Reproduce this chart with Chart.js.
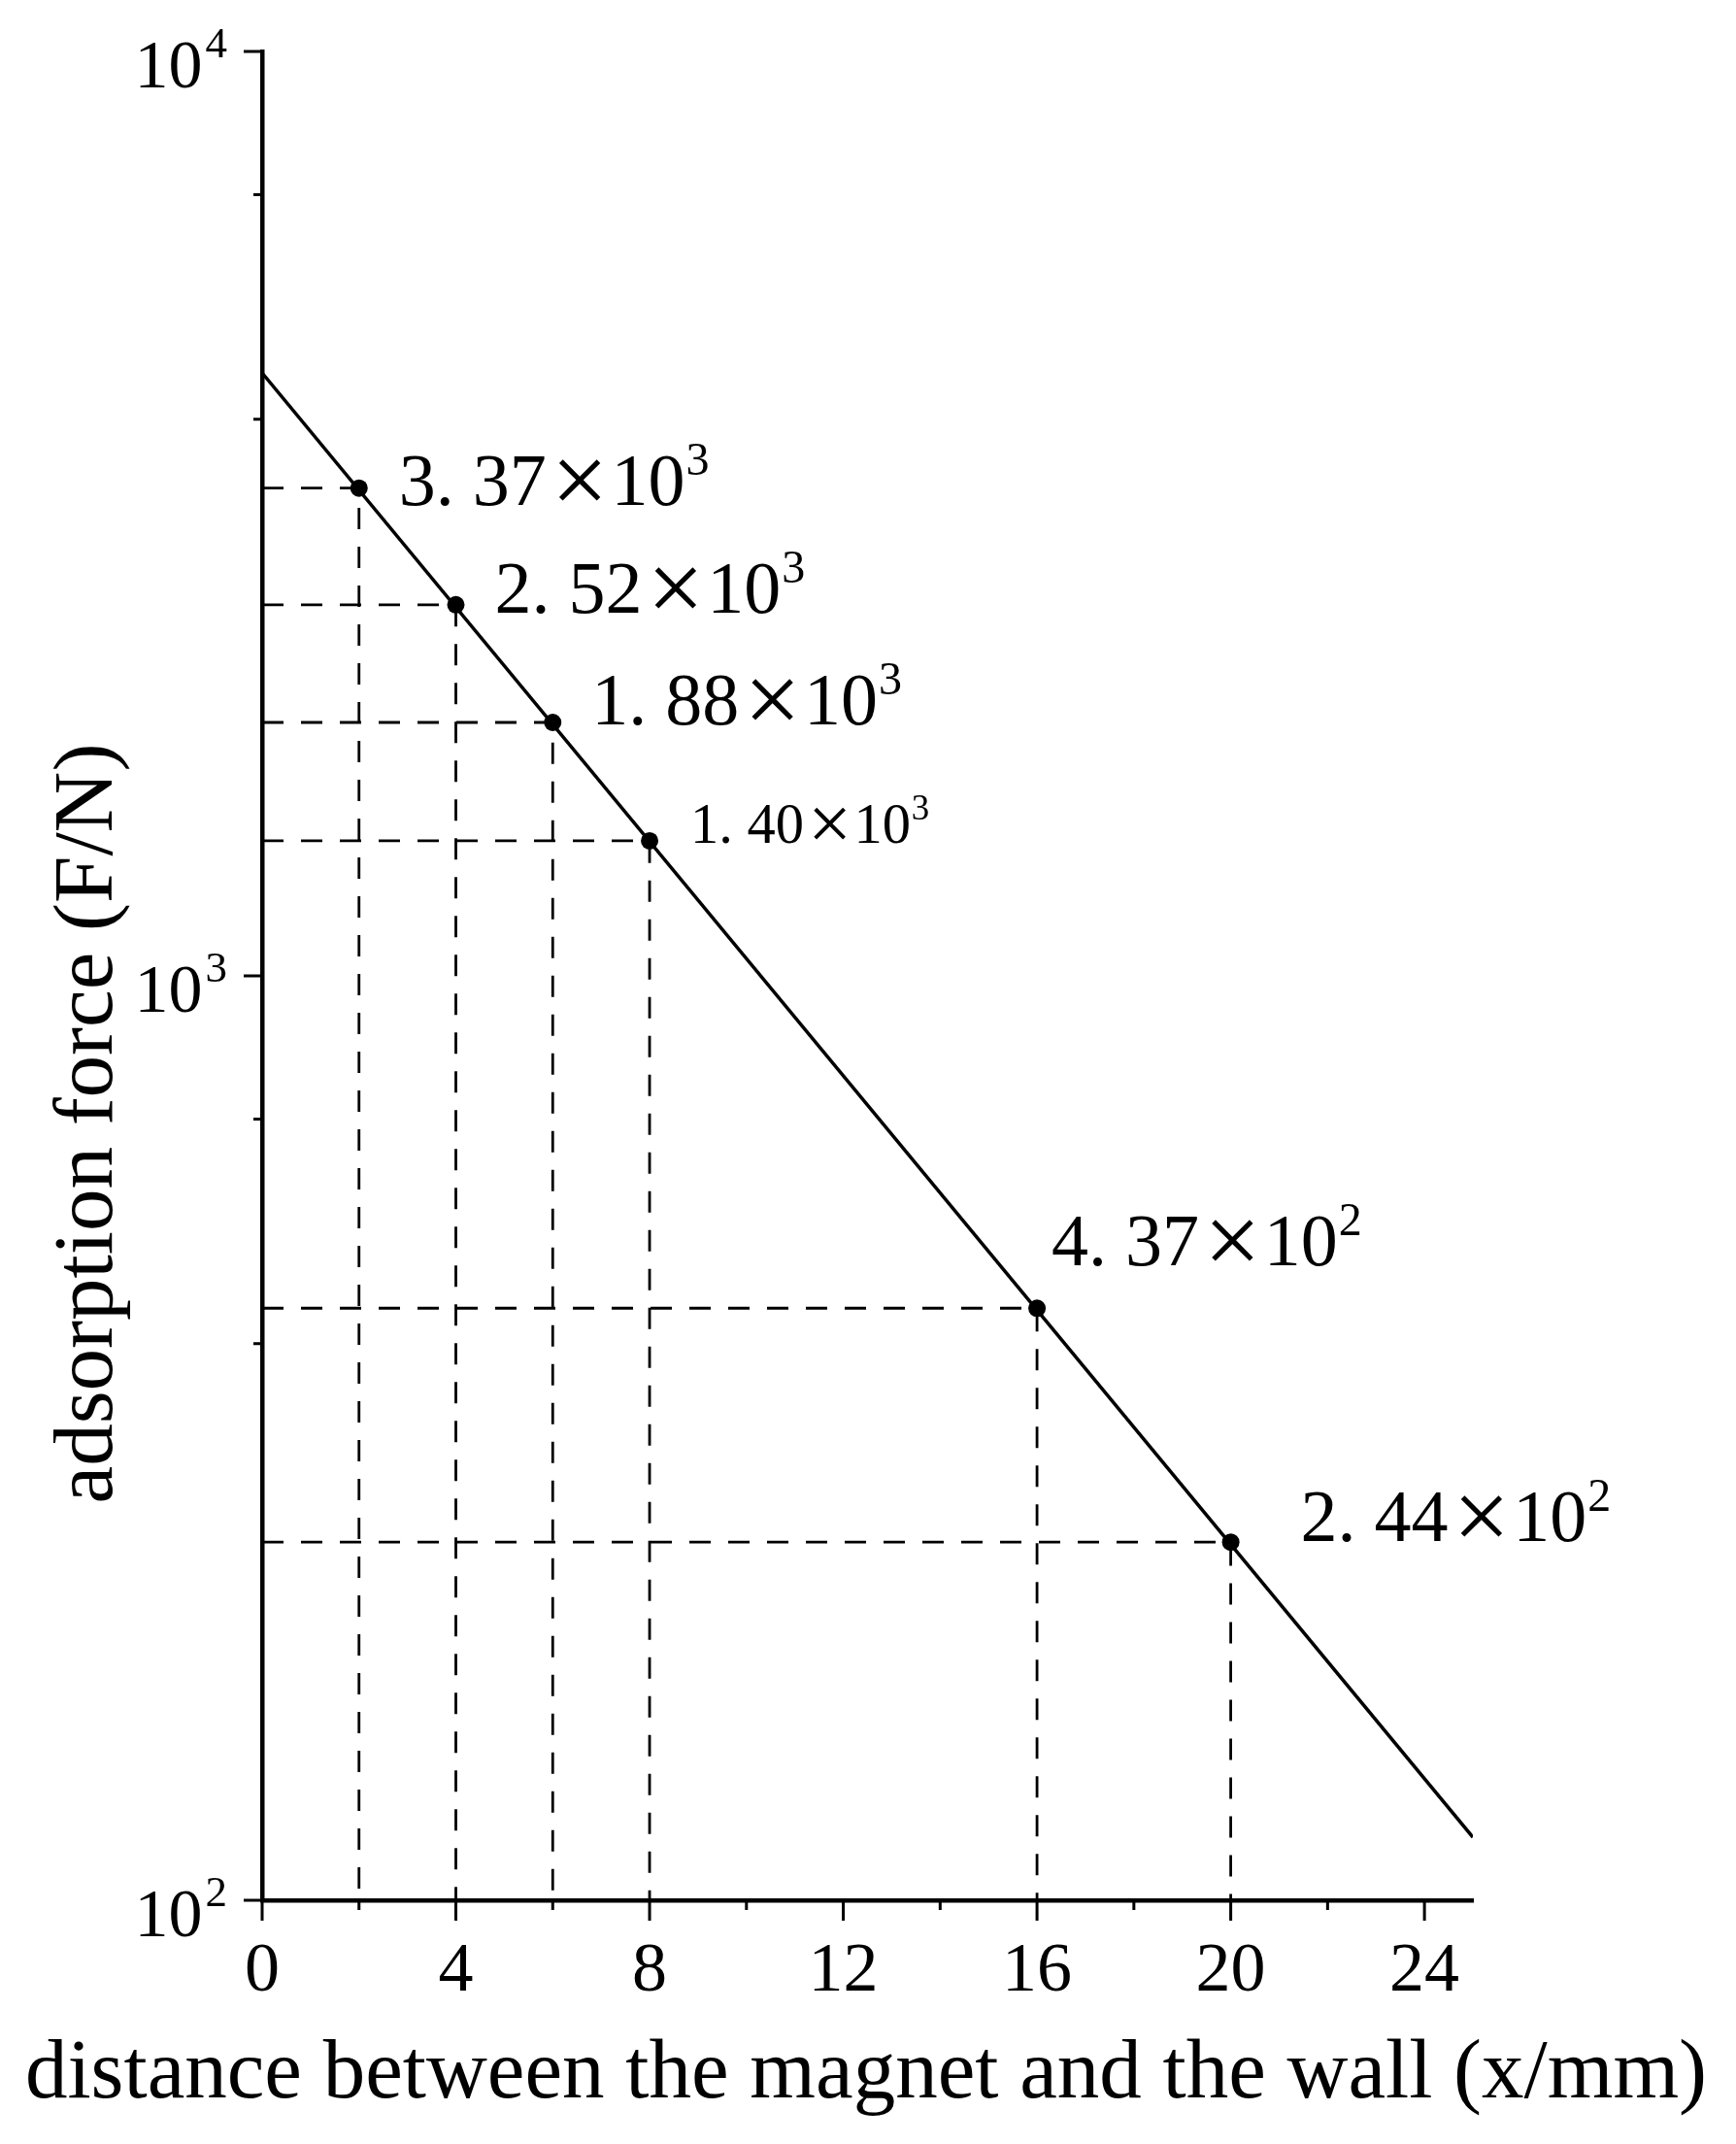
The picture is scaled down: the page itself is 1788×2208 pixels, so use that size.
<!DOCTYPE html>
<html>
<head>
<meta charset="utf-8">
<script src="https://cdn.jsdelivr.net/npm/chart.js@4.4.1/dist/chart.umd.min.js"></script>
<style>
  html, body { margin: 0; padding: 0; background: #fff; }
</style>
</head>
<body>
<canvas id="chart" width="1788" height="2208"></canvas>
<script>
// measured points
const distances = [2, 4, 6, 8, 16, 20];
const forces = [3370, 2520, 1880, 1400, 437, 244];
const labelMantissas = ['3. 37', '2. 52', '1. 88', '1. 40', '4. 37', '2. 44'];
const labelExponents = ['3', '3', '3', '3', '2', '2'];

// fitted line, read at both ends of the axis
const fitX = [0, 25];
const fitY = [4490, 117];

const xTicks = [0, 4, 8, 12, 16, 20, 24];
const xMinorTicks = [2, 6, 10, 14, 18, 22];
const yTicks = [100, 1000, 10000];
const yTickExponents = ['2', '3', '4'];
const yMinorTicks = [400, 700, 4000, 7000];

const xTitle = 'distance between the magnet and the wall (x/mm)';
const yTitle = 'adsorption force (F/N)';

// where each value label sits relative to its point: dx, dy, size factor
const labelOffsets = [[41, 17, 1], [40, 8, 1], [40, 2, 1], [42, 2, 0.77], [15, -44, 1], [72, -1, 1]];

const FONT = '"Liberation Serif", "Times New Roman", serif';

function drawSci(ctx, x, y, mant, exp, s) {
  ctx.textAlign = 'left';
  ctx.textBaseline = 'alphabetic';
  ctx.font = (76 * s) + 'px ' + FONT;
  ctx.fillText(mant, x, y);
  x += ctx.measureText(mant).width + 5 * s;
  ctx.font = (104 * s) + 'px ' + FONT;
  ctx.fillText('\u00d7', x, y + 9 * s);
  x += ctx.measureText('\u00d7').width + 3 * s;
  ctx.font = (76 * s) + 'px ' + FONT;
  ctx.fillText('10', x, y);
  x += ctx.measureText('10').width + 1 * s;
  ctx.font = (48 * s) + 'px ' + FONT;
  ctx.fillText(exp, x, y - 31 * s);
}

const decorPlugin = {
  id: 'decor',
  afterDraw(chart) {
    const ctx = chart.ctx;
    const xs = chart.scales.x;
    const ys = chart.scales.y;
    const left = chart.chartArea.left;
    const bottom = chart.chartArea.bottom;
    ctx.save();
    ctx.strokeStyle = '#000';
    ctx.fillStyle = '#000';
    ctx.lineWidth = 3;

    // tick marks
    ctx.beginPath();
    xTicks.forEach(v => { const p = xs.getPixelForValue(v); ctx.moveTo(p, bottom); ctx.lineTo(p, bottom + 21); });
    xMinorTicks.forEach(v => { const p = xs.getPixelForValue(v); ctx.moveTo(p, bottom); ctx.lineTo(p, bottom + 10); });
    yTicks.forEach(v => { const p = ys.getPixelForValue(v); ctx.moveTo(left, p); ctx.lineTo(left - 19, p); });
    yMinorTicks.forEach(v => { const p = ys.getPixelForValue(v); ctx.moveTo(left, p); ctx.lineTo(left - 9, p); });
    ctx.stroke();

    // y tick labels 10^n
    yTicks.forEach((v, i) => {
      const p = ys.getPixelForValue(v);
      ctx.textBaseline = 'alphabetic';
      ctx.textAlign = 'left';
      ctx.font = '45px ' + FONT;
      const ew = ctx.measureText(yTickExponents[i]).width;
      ctx.font = '70px ' + FONT;
      const bw = ctx.measureText('10').width;
      const right = left - 36;
      const x0 = right - ew - 3 - bw;
      ctx.fillText('10', x0, p + 36.5);
      ctx.font = '45px ' + FONT;
      ctx.fillText(yTickExponents[i], x0 + bw + 3, p + 5.5);
    });

    // value labels
    distances.forEach((d, i) => {
      const px = xs.getPixelForValue(d);
      const py = ys.getPixelForValue(forces[i]);
      const o = labelOffsets[i];
      drawSci(ctx, px + o[0], py + o[1], labelMantissas[i], labelExponents[i], o[2]);
    });

    // axis titles
    ctx.font = '87px ' + FONT;
    ctx.textAlign = 'center';
    ctx.textBaseline = 'alphabetic';
    ctx.fillText(xTitle, 892, 2160);
    ctx.translate(115, 1157);
    ctx.rotate(-Math.PI / 2);
    ctx.fillText(yTitle, 0, 0);
    ctx.restore();
  }
};

const guideSets = distances.map((d, i) => ({
  data: [{ x: 0, y: forces[i] }, { x: d, y: forces[i] }, { x: d, y: 100 }],
  borderColor: '#000',
  borderWidth: 2.8,
  borderDash: [22, 18],
  pointRadius: 0,
  tension: 0,
  clip: false
}));

new Chart(document.getElementById('chart').getContext('2d'), {
  type: 'line',
  data: {
    datasets: [
      {
        data: fitX.map((x, i) => ({ x: x, y: fitY[i] })),
        borderColor: '#000',
        borderWidth: 3.5,
        pointRadius: 0,
        tension: 0
      },
      {
        data: distances.map((x, i) => ({ x: x, y: forces[i] })),
        showLine: false,
        pointRadius: 9,
        pointBackgroundColor: '#000',
        pointBorderColor: '#000',
        pointBorderWidth: 0
      },
      ...guideSets
    ]
  },
  options: {
    responsive: false,
    animation: false,
    layout: { padding: { left: 0, right: 271, top: 53, bottom: 0 } },
    plugins: { legend: { display: false }, tooltip: { enabled: false } },
    scales: {
      x: {
        type: 'linear',
        min: 0,
        max: 25,
        afterBuildTicks: s => { s.ticks = xTicks.map(v => ({ value: v })); },
        afterFit: s => { s.height = 2208 - 1957; },
        grid: { display: false, drawTicks: false },
        border: { display: true, color: '#000', width: 4.5 },
        ticks: {
          color: '#000',
          font: { family: FONT, size: 72 },
          padding: 31,
          maxRotation: 0,
          autoSkip: false
        }
      },
      y: {
        type: 'logarithmic',
        min: 100,
        max: 10000,
        afterFit: s => { s.width = 270; },
        grid: { display: false, drawTicks: false },
        border: { display: true, color: '#000', width: 4.5 },
        ticks: { display: false }
      }
    }
  },
  plugins: [decorPlugin]
});
</script>
</body>
</html>
